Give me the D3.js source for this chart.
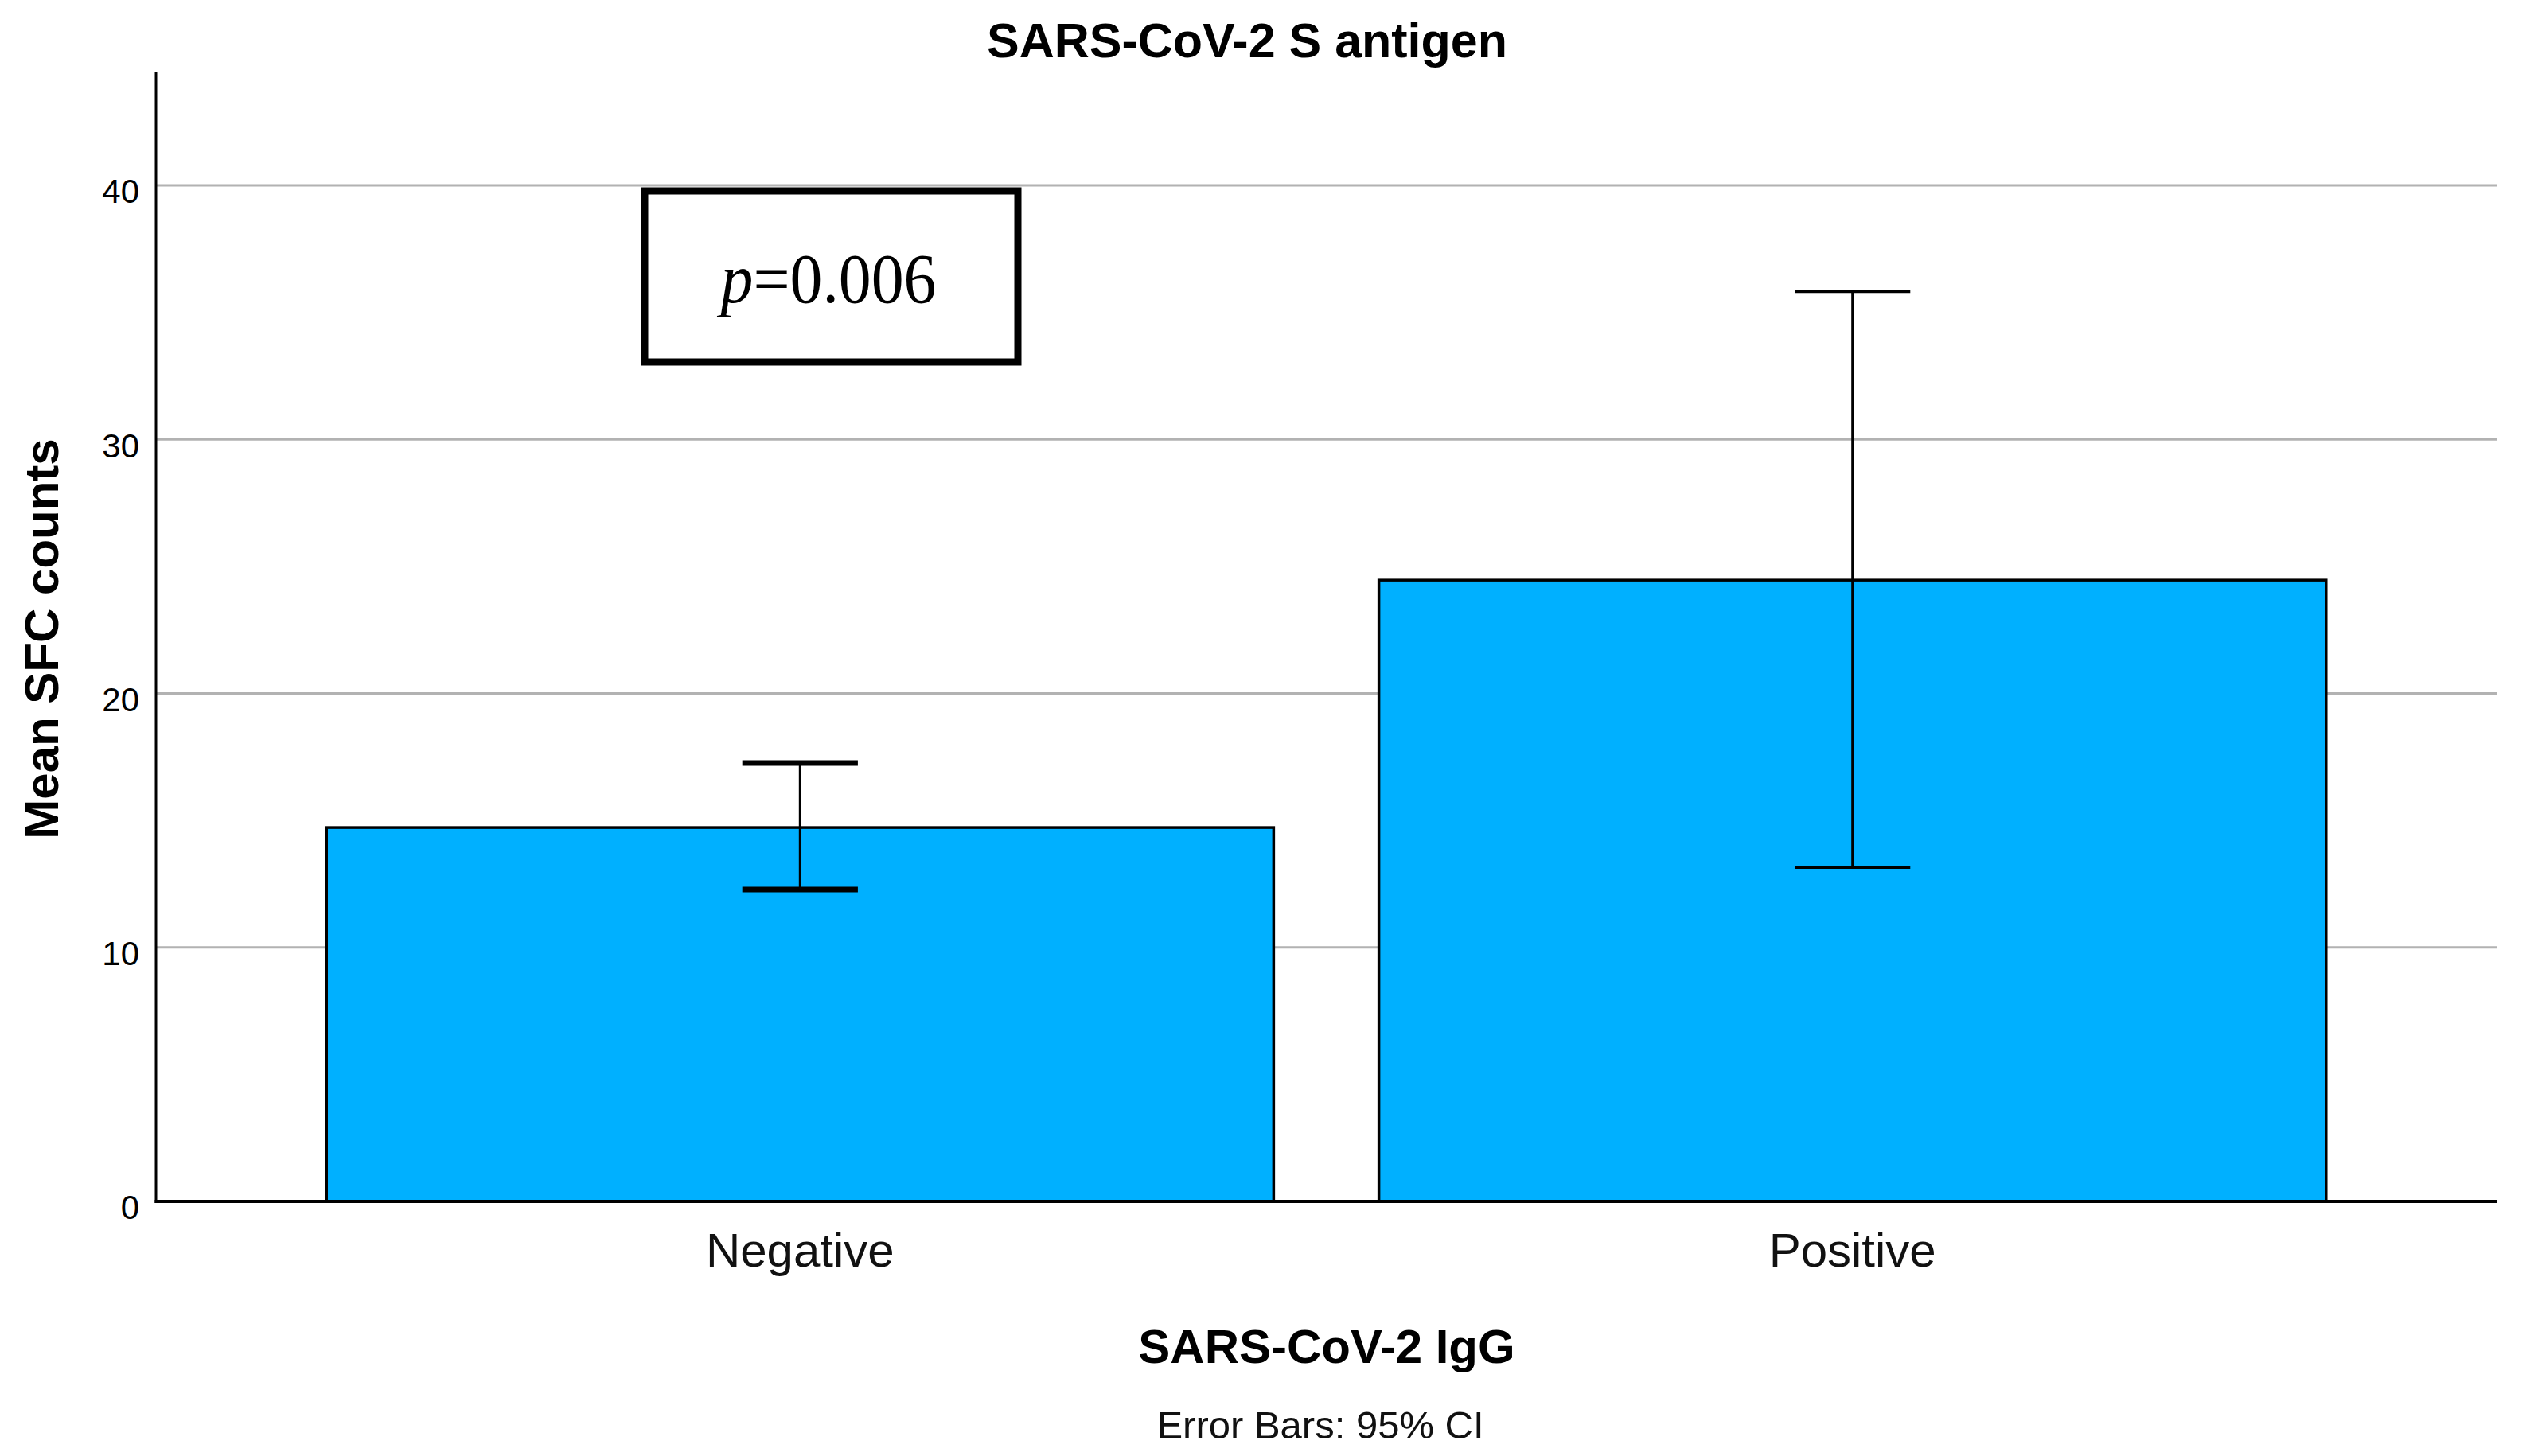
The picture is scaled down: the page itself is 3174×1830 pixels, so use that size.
<!DOCTYPE html>
<html>
<head>
<meta charset="utf-8">
<script src="https://cdn.jsdelivr.net/npm/d3@7"></script>
<style>
  html, body { margin: 0; padding: 0; background: #fff; }
  svg { display: block; }
  text { font-family: "Liberation Sans", Arial, Helvetica, sans-serif; }
</style>
</head>
<body>
<script>
// ---- data ----
const categories = ["Negative", "Positive"];
const means      = [14.72, 24.46];
const ciLower    = [12.28, 13.16];
const ciUpper    = [17.26, 35.83];
const yTicks     = [0, 10, 20, 30, 40];
const gridTicks  = [10, 20, 30, 40];
const yMax       = 44.45;
const title      = "SARS-CoV-2 S antigen";
const xTitle     = "SARS-CoV-2 IgG";
const yTitle     = "Mean SFC counts";
const footnote   = "Error Bars: 95% CI";
const pLabel     = "p";
const pValue     = "=0.006";

// ---- layout ----
const W = 3174, H = 1830;
const plot = { left: 196, right: 3137, top: 91, bottom: 1510 };
const capStroke = [7, 4];

const svg = d3.select("body").append("svg")
  .attr("width", W).attr("height", H);

const x = d3.scaleBand()
  .domain(categories)
  .range([plot.left, plot.right])
  .paddingInner(0.1)
  .paddingOuter(0.162);

const y = d3.scaleLinear()
  .domain([0, yMax])
  .range([plot.bottom, plot.top]);

// gridlines
svg.append("g").selectAll("line")
  .data(gridTicks).join("line")
  .attr("x1", plot.left).attr("x2", plot.right)
  .attr("y1", d => y(d)).attr("y2", d => y(d))
  .attr("stroke", "#b2b2b2").attr("stroke-width", 3);

// y axis (labels via d3 axis)
const yAxis = svg.append("g")
  .attr("transform", `translate(${plot.left},0)`)
  .call(d3.axisLeft(y).tickValues(yTicks).tickSize(0).tickPadding(21).tickFormat(d3.format("d")));
yAxis.select(".domain").remove();
yAxis.selectAll("text")
  .attr("font-size", 42)
  .attr("fill", "#000")
  .attr("dy", "0.52em")
  .style("font-family", '"Liberation Sans", Arial, sans-serif');

// bars
svg.append("g").selectAll("rect")
  .data(categories).join("rect")
  .attr("x", d => x(d))
  .attr("width", x.bandwidth())
  .attr("y", (d, i) => y(means[i]))
  .attr("height", (d, i) => y(0) - y(means[i]))
  .attr("fill", "#00b0ff")
  .attr("stroke", "#000")
  .attr("stroke-width", 3.5);

// error bars
const capHalf = x.bandwidth() * 0.061;
const eb = svg.append("g");
categories.forEach((c, i) => {
  const cx = x(c) + x.bandwidth() / 2;
  eb.append("line")
    .attr("x1", cx).attr("x2", cx)
    .attr("y1", y(ciLower[i])).attr("y2", y(ciUpper[i]))
    .attr("stroke", "#000").attr("stroke-width", 3);
  [ciLower[i], ciUpper[i]].forEach(v => {
    eb.append("line")
      .attr("x1", cx - capHalf).attr("x2", cx + capHalf)
      .attr("y1", y(v)).attr("y2", y(v))
      .attr("stroke", "#000").attr("stroke-width", capStroke[i]);
  });
});

// axis lines
svg.append("line")
  .attr("x1", plot.left).attr("x2", plot.left)
  .attr("y1", plot.top).attr("y2", plot.bottom + 2)
  .attr("stroke", "#000").attr("stroke-width", 3);
svg.append("line")
  .attr("x1", plot.left - 1.5).attr("x2", plot.right)
  .attr("y1", plot.bottom).attr("y2", plot.bottom)
  .attr("stroke", "#000").attr("stroke-width", 4);

// x category labels
svg.append("g").selectAll("text")
  .data(categories).join("text")
  .attr("x", d => x(d) + x.bandwidth() / 2)
  .attr("y", 1592)
  .attr("text-anchor", "middle")
  .attr("font-size", 60)
  .attr("fill", "#111")
  .text(d => d);

// titles
svg.append("text")
  .attr("x", 1567).attr("y", 72)
  .attr("text-anchor", "middle")
  .attr("font-size", 62).attr("font-weight", "bold")
  .attr("textLength", 654).attr("lengthAdjust", "spacingAndGlyphs")
  .text(title);

svg.append("text")
  .attr("x", 1667).attr("y", 1713)
  .attr("text-anchor", "middle")
  .attr("font-size", 60).attr("font-weight", "bold")
  .text(xTitle);

svg.append("text")
  .attr("transform", "translate(73,803) rotate(-90)")
  .attr("text-anchor", "middle")
  .attr("font-size", 60).attr("font-weight", "bold")
  .text(yTitle);

svg.append("text")
  .attr("x", 1659).attr("y", 1808)
  .attr("text-anchor", "middle")
  .attr("font-size", 49)
  .attr("fill", "#111")
  .text(footnote);

// p-value box
svg.append("rect")
  .attr("x", 810).attr("y", 240)
  .attr("width", 469).attr("height", 215)
  .attr("fill", "#fff")
  .attr("stroke", "#000").attr("stroke-width", 9);

const pt = svg.append("text")
  .attr("x", 1041).attr("y", 380)
  .attr("text-anchor", "middle")
  .attr("font-size", 88)
  .attr("textLength", 271).attr("lengthAdjust", "spacingAndGlyphs")
  .style("font-family", '"Liberation Serif", "Times New Roman", serif');
pt.append("tspan").attr("font-style", "italic").text(pLabel);
pt.append("tspan").text(pValue);
</script>
</body>
</html>
